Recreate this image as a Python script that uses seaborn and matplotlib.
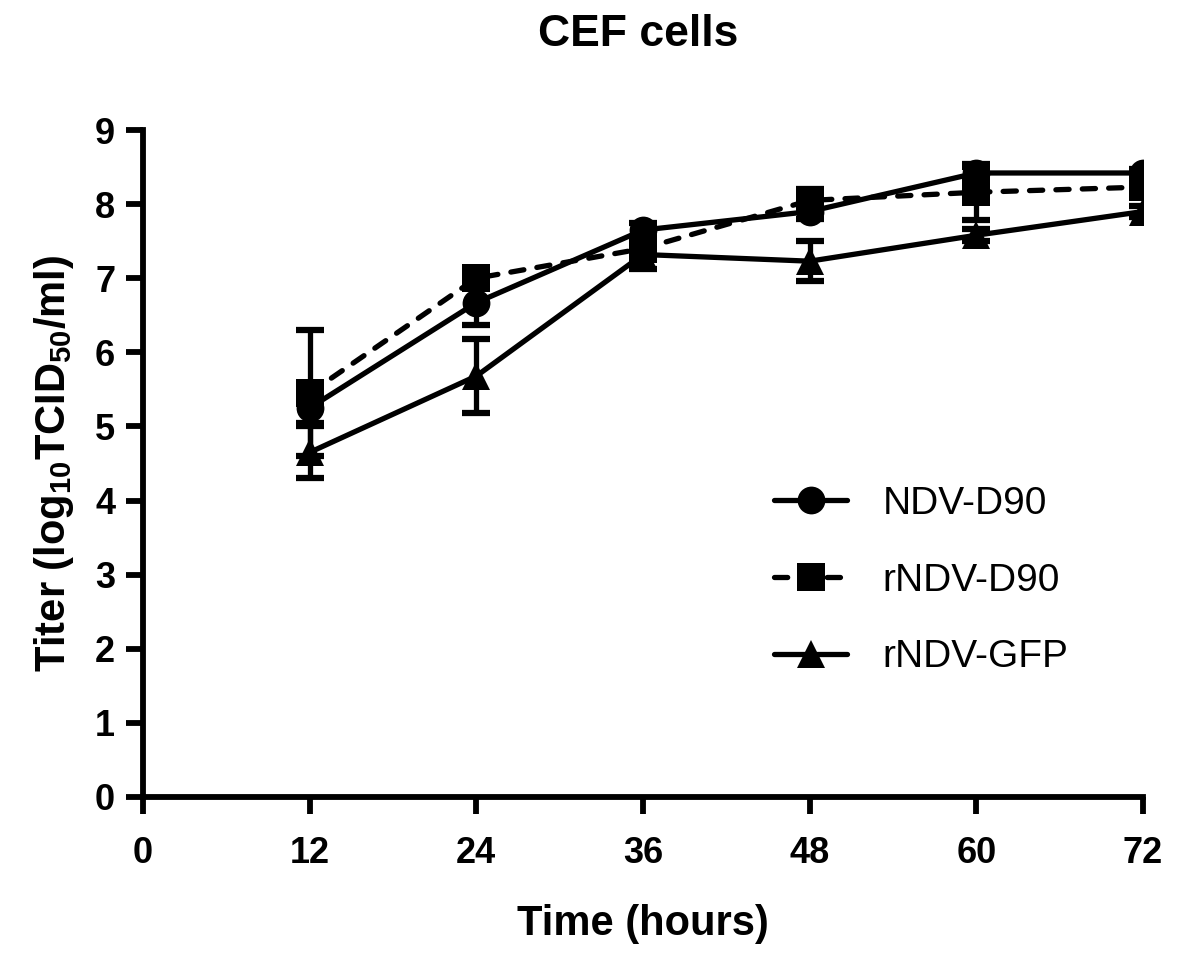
import matplotlib
matplotlib.use("Agg")
import matplotlib.pyplot as plt
import seaborn as sns
import pandas as pd
import numpy as np
from matplotlib.lines import Line2D

# ---- data ----
hours = [12, 24, 36, 48, 60, 72]
series_names = ["NDV-D90", "rNDV-D90", "rNDV-GFP"]
ndv_d90 = [5.25, 6.67, 7.65, 7.90, 8.42, 8.42]
rndv_d90 = [5.45, 7.00, 7.40, 8.05, 8.16, 8.23]
rndv_gfp = [4.65, 5.68, 7.32, 7.23, 7.58, 7.90]
ndv_d90_err = [0.20, 0.30, 0.10, 0.10, 0.08, 0.05]
rndv_d90_err = [0.85, 0.12, 0.10, 0.15, 0.38, 0.10]
rndv_gfp_err = [0.35, 0.50, 0.20, 0.27, 0.08, 0.08]
x_ticks = [0, 12, 24, 36, 48, 60, 72]
y_ticks = [0, 1, 2, 3, 4, 5, 6, 7, 8, 9]

values = [ndv_d90, rndv_d90, rndv_gfp]
errors = [ndv_d90_err, rndv_d90_err, rndv_gfp_err]

df = pd.DataFrame({
    "time": hours * 3,
    "titer": ndv_d90 + rndv_d90 + rndv_gfp,
    "virus": [n for n in series_names for _ in hours],
})

sns.set_theme(style="ticks")
plt.rcParams["font.family"] = ["Liberation Sans", "DejaVu Sans"]
plt.rcParams["mathtext.fontset"] = "custom"
plt.rcParams["mathtext.rm"] = "Liberation Sans"
plt.rcParams["mathtext.bf"] = "Liberation Sans:bold"
plt.rcParams["text.color"] = "black"

fig = plt.figure(figsize=(12, 9.64), dpi=100)
ax = fig.add_axes([143 / 1200, 1 - 797 / 964, 1000 / 1200, 667 / 964])

lw = 3.8
ms = 20
markers = {"NDV-D90": "o", "rNDV-D90": "s", "rNDV-GFP": "^"}
dashes = {"NDV-D90": "", "rNDV-D90": (2.5, 2.5), "rNDV-GFP": ""}
palette = {n: "black" for n in series_names}

# error bars first (under lines)
for v, e in zip(values, errors):
    ax.errorbar(hours, v, yerr=e, fmt="none", ecolor="black",
                elinewidth=lw, capsize=10, capthick=4.5, zorder=2)

sns.lineplot(data=df, x="time", y="titer", hue="virus", style="virus",
             markers=markers, dashes=dashes, palette=palette,
             linewidth=lw, markersize=ms, markeredgewidth=0,
             ax=ax, legend=False, zorder=3)

for line in ax.lines:
    line.set_dash_capstyle("round")
    line.set_solid_capstyle("butt")

ax.set_xlim(0, 72)
ax.set_ylim(0, 9)
ax.set_xticks(x_ticks)
ax.set_yticks(y_ticks)
ax.set_xticklabels([str(t) for t in x_ticks])
ax.set_yticklabels([str(t) for t in y_ticks])

for s in ["top", "right"]:
    ax.spines[s].set_visible(False)
for s in ["left", "bottom"]:
    ax.spines[s].set_linewidth(4.2)
    ax.spines[s].set_color("black")
    ax.spines[s].set_capstyle("projecting")

ax.tick_params(axis="both", which="major", length=12, width=4.2,
               color="black", labelsize=26, direction="out",
               labelcolor="black")
ax.tick_params(axis="x", pad=16)
ax.tick_params(axis="y", pad=8)
for lab in ax.get_xticklabels() + ax.get_yticklabels():
    lab.set_fontweight("bold")

ax.set_xlabel("Time (hours)", fontsize=30, fontweight="bold", labelpad=24,
              color="black")
ax.set_ylabel(r"Titer (log$_{\mathbf{10}}$TCID$_{\mathbf{50}}$/ml)",
              fontsize=30, fontweight="bold", labelpad=14, color="black")
fig.text(0.532, 1 - 35 / 964, "CEF cells", ha="center", va="center",
         fontsize=32, fontweight="bold", color="black")

# legend
handles = []
for n in series_names:
    ls = "-" if dashes[n] == "" else (0, (2.5, 2.5))
    h = Line2D([0], [0], color="black", linewidth=lw, linestyle=ls,
               marker=markers[n], markersize=ms, markeredgewidth=0,
               dash_capstyle="round")
    handles.append(h)
leg = ax.legend(handles, series_names, loc="upper left",
                bbox_to_anchor=(0.615, 0.49), frameon=False,
                fontsize=28, handlelength=1.9, handletextpad=0.9,
                labelspacing=1.05, borderaxespad=0)
for t in leg.get_texts():
    t.set_color("black")

fig.savefig("out.png", dpi=100, facecolor="white")
